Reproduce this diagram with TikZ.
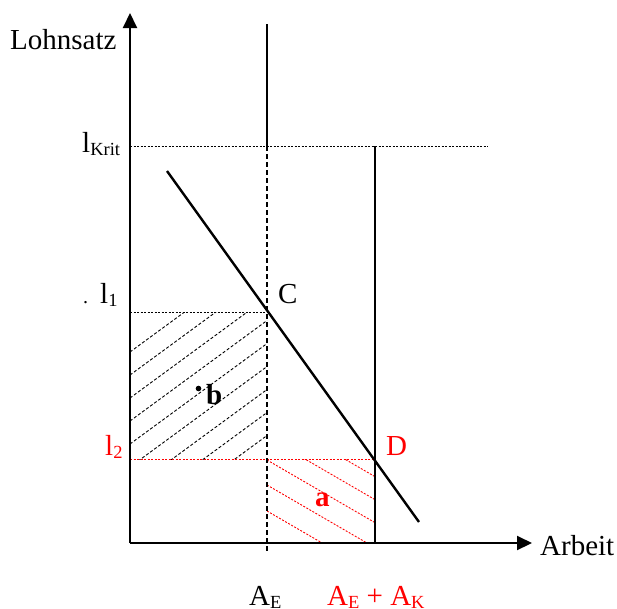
\documentclass[tikz,border=0pt]{standalone}
\usepackage{fontspec}
\setmainfont{Liberation Serif}
\usetikzlibrary{arrows.meta}
\tikzset{
  axisline/.style={line width=2pt,-{Triangle[length=15pt,width=14pt]}},
  solidline/.style={line width=2.4pt},
  dashline/.style={line width=1.6pt,dash pattern=on 5pt off 3pt},
  dotline/.style={line width=1pt,dash pattern=on 2pt off 1.5pt},
  hatchb/.style={line width=0.9pt,dash pattern=on 3pt off 2pt},
  hatcha/.style={red,line width=0.9pt,dash pattern=on 2pt off 1.5pt},
  lbl/.style={font=\fontsize{29}{33}\selectfont, inner sep=0pt, anchor=base west},
}
\newcommand\lsub[1]{\raisebox{-3pt}{\fontsize{18.5}{18.5}\selectfont #1}}
\begin{document}
\begin{tikzpicture}[x=1pt,y=-1pt]
\useasboundingbox (0,0) rectangle (617,608);
% coordinates
\coordinate (O) at (130,543);
\coordinate (Ytop) at (130,13);
\coordinate (Xend) at (532,543);
\coordinate (AEtop) at (267,24);
\coordinate (AEk) at (267,146);
\coordinate (AEbot) at (267,552);
\coordinate (Kleft) at (130,146);
\coordinate (Kright) at (488,146);
\coordinate (AKtop) at (375,146);
\coordinate (AKbot) at (375,543);
\coordinate (L1left) at (130,312);
\coordinate (C) at (267,312);
\coordinate (L2left) at (130,459);
\coordinate (D) at (375,459);
\coordinate (Nstart) at (167,171);
\coordinate (Nend) at (419,522);
% hatching b
\begin{scope}
  \clip (L1left) rectangle (267,459);
  \foreach \c in {352,375,...,536} \draw[hatchb] (130,\c) -- ++(150,-110);
\end{scope}
% hatching a
\begin{scope}
  \clip (267,459) rectangle (AKbot);
  \foreach \c in {414,437,460,485,511} \draw[hatcha] (267,\c) -- ++(120,69.6);
\end{scope}
% dotted lines
\draw[dotline] (Kleft) -- (Kright);
\draw[dotline] (L1left) -- (C);
\draw[dotline,red] (L2left) -- (D);
% verticals
\draw[dashline] (AEk) -- (AEbot);
\draw[solidline] (AEtop) -- (AEk);
\draw[solidline] (AKtop) -- (AKbot);
\draw[solidline] (Nstart) -- (Nend);
% axes
\draw[axisline] (O) -- (Ytop);
\draw[axisline] (O) -- (Xend);
% labels
\node[lbl] (ylab) at (10,49) {Lohnsatz};
\node[lbl] (xlab) at (540,555) {Arbeit};
\node[lbl] (lkrit) at (82,152) {l\lsub{Krit}};
\node[lbl] (l1) at (100,303) {l\lsub{1}};
\node[lbl,font=\fontsize{20}{20}\selectfont] (pt) at (83,303) {.};
\node[lbl] (Clab) at (278,303) {C};
\node[lbl,red] (l2) at (105,455) {l\lsub{2}};
\node[lbl,red] (Dlab) at (386,455) {D};
\fill (198.5,388.5) circle (2.8);
\node[lbl,font=\fontsize{29}{33}\selectfont\bfseries] (blab) at (206,404) {b};
\node[lbl,red,font=\fontsize{29}{33}\selectfont\bfseries] (alab) at (315,506) {a};
\node[lbl] (AE) at (249,605) {A\lsub{E}};
\node[lbl,red] (AEK) at (327,605) {A\lsub{E} + A\lsub{K}};
\end{tikzpicture}
\end{document}
